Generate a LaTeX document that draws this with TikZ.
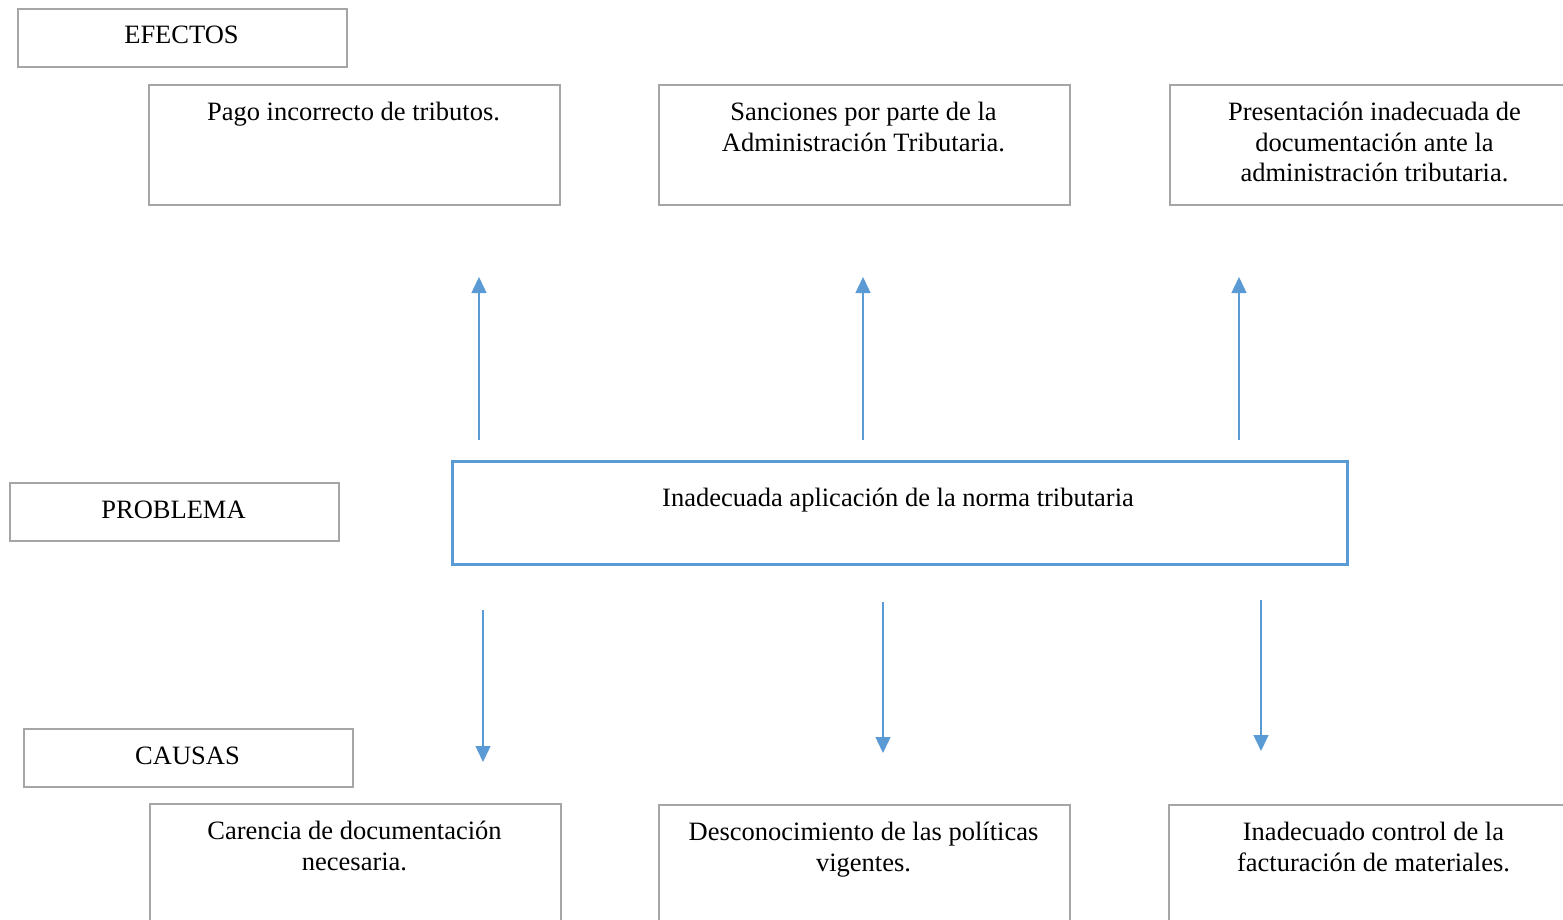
\documentclass[tikz,border=0pt]{standalone}
\usepackage{fontspec}
\setmainfont{Liberation Serif}
\usetikzlibrary{arrows.meta}
\definecolor{boxgray}{HTML}{A6A6A6}
\definecolor{arrowblue}{HTML}{5B9BD5}
\begin{document}
\begin{tikzpicture}[x=1pt,y=-1pt,
  graybox/.style={draw=boxgray,line width=2.4pt,inner sep=0pt,anchor=north west},
  bluebox/.style={draw=arrowblue,line width=2.8pt,inner sep=0pt,anchor=north west},
  txt/.style={inner sep=0pt,align=center,font=\fontsize{26.5}{30.5}\selectfont},
  link/.style={draw=arrowblue,line width=1.4pt,-{Triangle[width=15pt,length=16pt]}}]
\useasboundingbox (0,0) rectangle (1563,920);
\clip (0,0) rectangle (1563,920);
% label boxes
\node[graybox,minimum width=329pt,minimum height=58pt] (efb) at (17,8) {};
\node[graybox,minimum width=329pt,minimum height=58pt] (prb) at (9,482) {};
\node[graybox,minimum width=329pt,minimum height=58pt] (cab) at (23,728) {};
\node[txt,anchor=base] (eft) at (181.5,44) {EFECTOS};
\node[txt,anchor=base] (prt) at (173.5,518) {PROBLEMA};
\node[txt,anchor=base] (cat) at (187.5,764) {CAUSAS};
% effect boxes
\node[graybox,minimum width=411pt,minimum height=120pt] (e1) at (148,84) {};
\node[graybox,minimum width=411pt,minimum height=120pt] (e2) at (658,84) {};
\node[graybox,minimum width=411pt,minimum height=120pt] (e3) at (1169,84) {};
\node[txt,anchor=north] (e1t) at (353.5,102) {Pago incorrecto de tributos.};
\node[txt,anchor=north] (e2t) at (863.5,102) {Sanciones por parte de la\\Administración Tributaria.};
\node[txt,anchor=north] (e3t) at (1374.5,102) {Presentación inadecuada de\\documentación ante la\\administración tributaria.};
% problem box
\node[bluebox,minimum width=895pt,minimum height=103pt] (pb) at (451,460) {};
\node[txt,anchor=base] (pbt) at (898,506) {Inadecuada aplicación de la norma tributaria};
% cause boxes
\node[graybox,minimum width=411pt,minimum height=140pt] (c1) at (149,803) {};
\node[graybox,minimum width=411pt,minimum height=140pt] (c2) at (658,804) {};
\node[graybox,minimum width=411pt,minimum height=140pt] (c3) at (1168,804) {};
\node[txt,anchor=north] (c1t) at (354.5,821) {Carencia de documentación\\necesaria.};
\node[txt,anchor=north] (c2t) at (863.5,822) {Desconocimiento de las políticas\\vigentes.};
\node[txt,anchor=north] (c3t) at (1373.5,822) {Inadecuado control de la\\facturación de materiales.};
% arrow end points
\coordinate (u1s) at (479,440); \coordinate (u1e) at (479,277);
\coordinate (u2s) at (863,440); \coordinate (u2e) at (863,277);
\coordinate (u3s) at (1239,440); \coordinate (u3e) at (1239,277);
\coordinate (d1s) at (483,610); \coordinate (d1e) at (483,762);
\coordinate (d2s) at (883,602); \coordinate (d2e) at (883,753);
\coordinate (d3s) at (1261,600); \coordinate (d3e) at (1261,751);
\draw[link] (u1s) -- (u1e);
\draw[link] (u2s) -- (u2e);
\draw[link] (u3s) -- (u3e);
\draw[link] (d1s) -- (d1e);
\draw[link] (d2s) -- (d2e);
\draw[link] (d3s) -- (d3e);
\end{tikzpicture}
\end{document}
